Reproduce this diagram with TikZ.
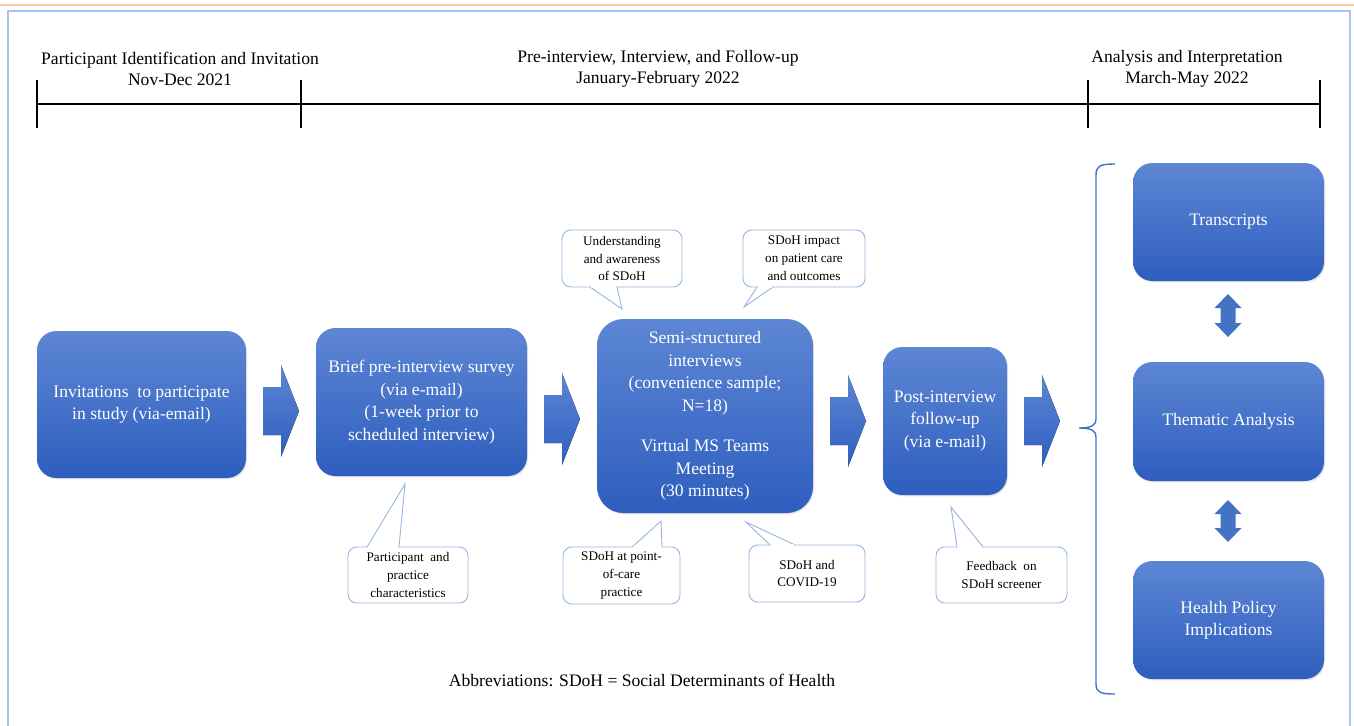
\documentclass[tikz,border=0pt]{standalone}
\usepackage{fontspec}
\setmainfont{Liberation Serif}
\usetikzlibrary{shadows}

\definecolor{boxtop}{RGB}{93,134,212}
\definecolor{boxbottom}{RGB}{46,94,190}
\definecolor{arrowblue}{RGB}{68,114,196}
\definecolor{bubbleedge}{RGB}{150,180,225}
\definecolor{frameblue}{RGB}{170,196,235}
\definecolor{rulepeach}{RGB}{248,203,163}

\def\px{0.02cm}

\tikzset{
  stage/.style={rounded corners=11pt, top color=boxtop, bottom color=boxbottom,
    text=white, align=center, font=\fontsize{10}{12.8}\selectfont, inner sep=2pt,
    drop shadow={opacity=0.2, shadow xshift=0.6pt, shadow yshift=-0.8pt}},
  bubble/.style={draw=bubbleedge, line width=0.5pt, fill=white, rounded corners=5pt,
    align=center, font=\fontsize{7.5}{10.2}\selectfont, inner sep=1pt},
  bubbleline/.style={draw=bubbleedge, line width=0.5pt},
  phase/.style={align=center, font=\fontsize{10}{12}\selectfont},
}

% pointer of a speech bubble: node, base from, base to, base y, tip
\newcommand{\callptr}[5]{%
  \coordinate (#1-tip) at (#5);
  \filldraw[bubbleline, fill=white] (#2,#4) -- (#1-tip) -- (#3,#4);
  \draw[white, line width=1.2pt] (#2+1,#4) -- (#3-1,#4);
}

\begin{document}
\begin{tikzpicture}[x=0.02cm, y=-0.02cm]
    \useasboundingbox (0,0) rectangle (1354,725);

    % page rule and frame
    \draw[rulepeach, line width=0.8pt] (0,5) -- (1354,5);
    \draw[frameblue, line width=0.8pt] (8,11) rectangle (1350,760);

    % Draw the timeline
    \draw[line width=1pt] (37,104) -- (1320,104);
    \foreach \x in {37,301,1088,1320} {
        \draw[line width=0.8pt] (\x,80) -- (\x,128);
    }
    \node[phase] (phaseA) at (180,68.5) {Participant Identification and Invitation\\Nov-Dec 2021};
    \node[phase] (phaseB) at (658,68.5) {Pre-interview, Interview, and Follow-up\\January-February 2022};
    \node[phase] (phaseC) at (1187,68.5) {Analysis and Interpretation\\March-May 2022};

    % Study stages
    \node[stage, minimum width=209*\px, minimum height=147*\px] (invite) at (141.5,404.5)
        {Invitations\ \ to participate\\in study (via-email)};
    \node[stage, minimum width=211*\px, minimum height=148*\px] (survey) at (421.5,402)
        {Brief pre-interview survey\\(via e-mail)\\(1-week prior to\\scheduled interview)};
    \node[stage, rounded corners=15pt, minimum width=216*\px, minimum height=194*\px] (interview) at (705,416)
        {Semi-structured\\interviews\\(convenience sample;\\N=18)\\[10pt]Virtual MS Teams\\Meeting\\(30 minutes)};
    \node[stage, minimum width=124*\px, minimum height=148*\px] (followup) at (945,421)
        {Post-interview\\follow-up\\(via e-mail)};

    % Analysis stages
    \node[stage, minimum width=191*\px, minimum height=118*\px] (transcripts) at (1228.5,222) {Transcripts};
    \node[stage, minimum width=191*\px, minimum height=119*\px] (thematic) at (1228.5,421.5) {Thematic Analysis};
    \node[stage, minimum width=191*\px, minimum height=118*\px] (policy) at (1228.5,620) {Health Policy\\Implications};

    % Block arrows between stages
    \foreach \x/\y in {263/411,544/419,830/421,1024/421} {
        \fill[top color=boxtop, bottom color=boxbottom] (\x,\y-24) -- (\x+18,\y-24) -- (\x+18,\y-46)
            -- (\x+36,\y) -- (\x+18,\y+46) -- (\x+18,\y+24) -- (\x,\y+24) -- cycle;
    }

    % Double arrows in the analysis column
    \foreach \t/\b in {294/337,500/542} {
        \fill[arrowblue] (1228,\t) -- (1241.5,\t+14) -- (1235.5,\t+14) -- (1235.5,\b-14) -- (1241.5,\b-14)
            -- (1228,\b) -- (1214.5,\b-14) -- (1220.5,\b-14) -- (1220.5,\t+14) -- (1214.5,\t+14) -- cycle;
    }

    % Brace
    \draw[arrowblue, line width=0.8pt] (1115,164) .. controls (1100,164) and (1096,166) .. (1096,175)
        -- (1096,419) .. controls (1096,425) and (1092,428) .. (1079,428)
        .. controls (1092,428) and (1096,431) .. (1096,437)
        -- (1096,684) .. controls (1096,692) and (1100,694) .. (1115,694);

    % Speech bubbles
    \node[bubble, minimum width=120*\px, minimum height=57*\px] (understand) at (622,258.5)
        {Understanding\\and awareness\\of SDoH};
    \node[bubble, minimum width=122*\px, minimum height=57*\px] (impact) at (804,258.5)
        {SDoH impact\\on patient care\\and outcomes};
    \node[bubble, minimum width=120*\px, minimum height=56*\px] (traits) at (408,575)
        {Participant\ \ and\\practice\\characteristics};
    \node[bubble, minimum width=117*\px, minimum height=57*\px] (pointofcare) at (621.5,575.5)
        {SDoH at point-\\of-care\\practice};
    \node[bubble, minimum width=116*\px, minimum height=57*\px] (covid) at (807,573.5)
        {SDoH and\\COVID-19};
    \node[bubble, minimum width=131*\px, minimum height=56*\px] (feedback) at (1001.5,575)
        {Feedback\ \ on\\SDoH screener};

    \callptr{understand}{590}{617}{287}{622,309}
    \callptr{impact}{757}{773}{287}{744,307}
    \callptr{traits}{367}{399}{547}{405,484}
    \callptr{pointofcare}{632}{662}{547}{661,521}
    \callptr{covid}{770}{795}{545}{746,522}
    \callptr{feedback}{957}{983}{547}{951,507}

    \node[phase] (abbrev) at (642,680) {Abbreviations: SDoH = Social Determinants of Health};

\end{tikzpicture}
\end{document}
